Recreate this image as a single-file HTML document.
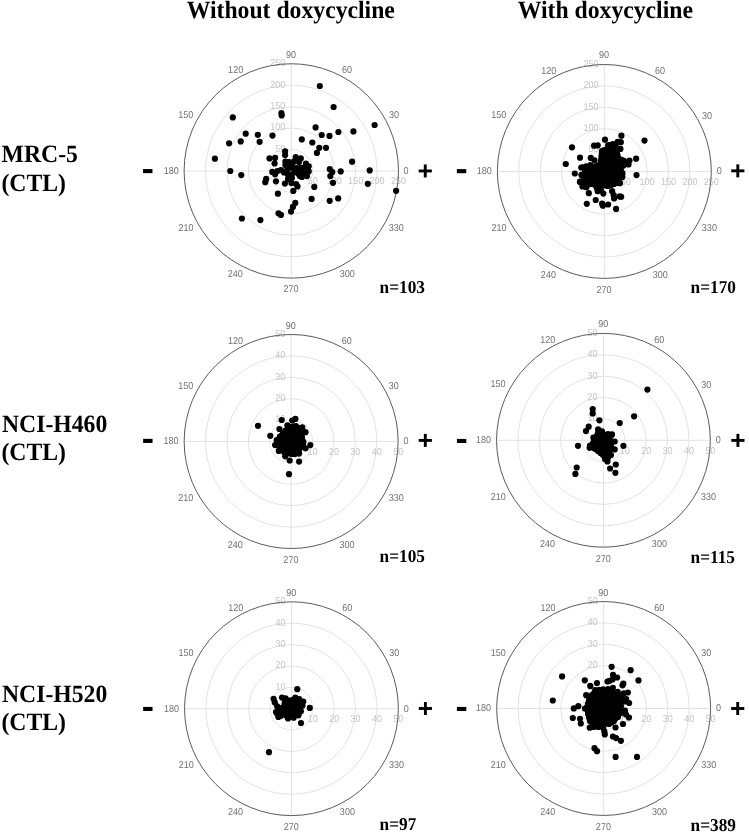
<!DOCTYPE html>
<html><head><meta charset="utf-8"><style>
html,body{margin:0;padding:0;background:#fff;}
body{width:749px;height:832px;overflow:hidden;}
svg{display:block;filter:blur(0.4px);}
text{text-rendering:geometricPrecision;}
</style></head><body>
<svg width="749" height="832" viewBox="0 0 749 832">
<g fill="none" stroke="#e2e2e2" stroke-width="1">
<circle cx="291.3" cy="170.95" r="21.44"/>
<circle cx="291.3" cy="170.95" r="42.88"/>
<circle cx="291.3" cy="170.95" r="64.32"/>
<circle cx="291.3" cy="170.95" r="85.76"/>
<path d="M184.1 170.95H398.5M291.3 63.75V278.15"/>
<circle cx="604.35" cy="171.45" r="21.39"/>
<circle cx="604.35" cy="171.45" r="42.78"/>
<circle cx="604.35" cy="171.45" r="64.17"/>
<circle cx="604.35" cy="171.45" r="85.56"/>
<path d="M497.4 171.45H711.3M604.35 64.5V278.4"/>
<circle cx="291.15" cy="441.5" r="21.4"/>
<circle cx="291.15" cy="441.5" r="42.8"/>
<circle cx="291.15" cy="441.5" r="64.2"/>
<circle cx="291.15" cy="441.5" r="85.6"/>
<path d="M184.15 441.5H398.15M291.15 334.5V548.5"/>
<circle cx="603.45" cy="440.3" r="21.38"/>
<circle cx="603.45" cy="440.3" r="42.76"/>
<circle cx="603.45" cy="440.3" r="64.14"/>
<circle cx="603.45" cy="440.3" r="85.52"/>
<path d="M496.55 440.3H710.35M603.45 333.4V547.2"/>
<circle cx="291.45" cy="708.7" r="21.38"/>
<circle cx="291.45" cy="708.7" r="42.76"/>
<circle cx="291.45" cy="708.7" r="64.14"/>
<circle cx="291.45" cy="708.7" r="85.52"/>
<path d="M184.55 708.7H398.35M291.45 601.8V815.6"/>
<circle cx="603.65" cy="708.5" r="21.39"/>
<circle cx="603.65" cy="708.5" r="42.78"/>
<circle cx="603.65" cy="708.5" r="64.17"/>
<circle cx="603.65" cy="708.5" r="85.56"/>
<path d="M496.7 708.5H710.6M603.65 601.55V815.45"/>
</g>
<g font-family="Liberation Sans, sans-serif" font-size="9.5" fill="#c4c4c4">
<text transform="translate(285.4 151.9) scale(0.95 1.05)" text-anchor="end">50</text>
<text transform="translate(312.74 184.24) scale(0.95 1.05)" text-anchor="middle">50</text>
<text transform="translate(285.4 130.46) scale(0.95 1.05)" text-anchor="end">100</text>
<text transform="translate(334.18 184.24) scale(0.95 1.05)" text-anchor="middle">100</text>
<text transform="translate(285.4 109.02) scale(0.95 1.05)" text-anchor="end">150</text>
<text transform="translate(355.62 184.24) scale(0.95 1.05)" text-anchor="middle">150</text>
<text transform="translate(285.4 87.58) scale(0.95 1.05)" text-anchor="end">200</text>
<text transform="translate(377.06 184.24) scale(0.95 1.05)" text-anchor="middle">200</text>
<text transform="translate(285.4 66.14) scale(0.95 1.05)" text-anchor="end">250</text>
<text transform="translate(398.5 184.24) scale(0.95 1.05)" text-anchor="middle">250</text>
<text transform="translate(598.45 152.45) scale(0.95 1.05)" text-anchor="end">50</text>
<text transform="translate(625.74 184.74) scale(0.95 1.05)" text-anchor="middle">50</text>
<text transform="translate(598.45 131.06) scale(0.95 1.05)" text-anchor="end">100</text>
<text transform="translate(647.13 184.74) scale(0.95 1.05)" text-anchor="middle">100</text>
<text transform="translate(598.45 109.67) scale(0.95 1.05)" text-anchor="end">150</text>
<text transform="translate(668.52 184.74) scale(0.95 1.05)" text-anchor="middle">150</text>
<text transform="translate(598.45 88.28) scale(0.95 1.05)" text-anchor="end">200</text>
<text transform="translate(689.91 184.74) scale(0.95 1.05)" text-anchor="middle">200</text>
<text transform="translate(598.45 66.89) scale(0.95 1.05)" text-anchor="end">250</text>
<text transform="translate(711.3 184.74) scale(0.95 1.05)" text-anchor="middle">250</text>
<text transform="translate(285.25 422.49) scale(0.95 1.05)" text-anchor="end">10</text>
<text transform="translate(312.55 454.79) scale(0.95 1.05)" text-anchor="middle">10</text>
<text transform="translate(285.25 401.09) scale(0.95 1.05)" text-anchor="end">20</text>
<text transform="translate(333.95 454.79) scale(0.95 1.05)" text-anchor="middle">20</text>
<text transform="translate(285.25 379.69) scale(0.95 1.05)" text-anchor="end">30</text>
<text transform="translate(355.35 454.79) scale(0.95 1.05)" text-anchor="middle">30</text>
<text transform="translate(285.25 358.29) scale(0.95 1.05)" text-anchor="end">40</text>
<text transform="translate(376.75 454.79) scale(0.95 1.05)" text-anchor="middle">40</text>
<text transform="translate(285.25 336.89) scale(0.95 1.05)" text-anchor="end">50</text>
<text transform="translate(398.15 454.79) scale(0.95 1.05)" text-anchor="middle">50</text>
<text transform="translate(597.55 421.31) scale(0.95 1.05)" text-anchor="end">10</text>
<text transform="translate(624.83 453.59) scale(0.95 1.05)" text-anchor="middle">10</text>
<text transform="translate(597.55 399.93) scale(0.95 1.05)" text-anchor="end">20</text>
<text transform="translate(646.21 453.59) scale(0.95 1.05)" text-anchor="middle">20</text>
<text transform="translate(597.55 378.55) scale(0.95 1.05)" text-anchor="end">30</text>
<text transform="translate(667.59 453.59) scale(0.95 1.05)" text-anchor="middle">30</text>
<text transform="translate(597.55 357.17) scale(0.95 1.05)" text-anchor="end">40</text>
<text transform="translate(688.97 453.59) scale(0.95 1.05)" text-anchor="middle">40</text>
<text transform="translate(597.55 335.79) scale(0.95 1.05)" text-anchor="end">50</text>
<text transform="translate(710.35 453.59) scale(0.95 1.05)" text-anchor="middle">50</text>
<text transform="translate(285.55 689.71) scale(0.95 1.05)" text-anchor="end">10</text>
<text transform="translate(312.83 721.99) scale(0.95 1.05)" text-anchor="middle">10</text>
<text transform="translate(285.55 668.33) scale(0.95 1.05)" text-anchor="end">20</text>
<text transform="translate(334.21 721.99) scale(0.95 1.05)" text-anchor="middle">20</text>
<text transform="translate(285.55 646.95) scale(0.95 1.05)" text-anchor="end">30</text>
<text transform="translate(355.59 721.99) scale(0.95 1.05)" text-anchor="middle">30</text>
<text transform="translate(285.55 625.57) scale(0.95 1.05)" text-anchor="end">40</text>
<text transform="translate(376.97 721.99) scale(0.95 1.05)" text-anchor="middle">40</text>
<text transform="translate(285.55 604.19) scale(0.95 1.05)" text-anchor="end">50</text>
<text transform="translate(398.35 721.99) scale(0.95 1.05)" text-anchor="middle">50</text>
<text transform="translate(597.75 689.5) scale(0.95 1.05)" text-anchor="end">10</text>
<text transform="translate(625.04 721.79) scale(0.95 1.05)" text-anchor="middle">10</text>
<text transform="translate(597.75 668.11) scale(0.95 1.05)" text-anchor="end">20</text>
<text transform="translate(646.43 721.79) scale(0.95 1.05)" text-anchor="middle">20</text>
<text transform="translate(597.75 646.72) scale(0.95 1.05)" text-anchor="end">30</text>
<text transform="translate(667.82 721.79) scale(0.95 1.05)" text-anchor="middle">30</text>
<text transform="translate(597.75 625.33) scale(0.95 1.05)" text-anchor="end">40</text>
<text transform="translate(689.21 721.79) scale(0.95 1.05)" text-anchor="middle">40</text>
<text transform="translate(597.75 603.94) scale(0.95 1.05)" text-anchor="end">50</text>
<text transform="translate(710.6 721.79) scale(0.95 1.05)" text-anchor="middle">50</text>
</g>
<g fill="none" stroke="#5a5a5a" stroke-width="1">
<circle cx="291.3" cy="170.95" r="107.2"/>
<circle cx="604.35" cy="171.45" r="106.95"/>
<circle cx="291.15" cy="441.5" r="107"/>
<circle cx="603.45" cy="440.3" r="106.9"/>
<circle cx="291.45" cy="708.7" r="106.9"/>
<circle cx="603.65" cy="708.5" r="106.95"/>
</g>
<g font-family="Liberation Sans, sans-serif" font-size="9.5" fill="#707070">
<text transform="translate(403.6 173.79) scale(0.95 1.05)" text-anchor="start">0</text>
<text transform="translate(389 118.19) scale(0.95 1.05)" text-anchor="start">30</text>
<text transform="translate(347 73.49) scale(0.95 1.05)" text-anchor="middle">60</text>
<text transform="translate(291 57.99) scale(0.95 1.05)" text-anchor="middle">90</text>
<text transform="translate(235.65 73.49) scale(0.95 1.05)" text-anchor="middle">120</text>
<text transform="translate(193.35 117.99) scale(0.95 1.05)" text-anchor="end">150</text>
<text transform="translate(178.8 173.89) scale(0.95 1.05)" text-anchor="end">180</text>
<text transform="translate(193.55 230.69) scale(0.95 1.05)" text-anchor="end">210</text>
<text transform="translate(235.35 277.34) scale(0.95 1.05)" text-anchor="middle">240</text>
<text transform="translate(291.05 292.19) scale(0.95 1.05)" text-anchor="middle">270</text>
<text transform="translate(347.25 277.29) scale(0.95 1.05)" text-anchor="middle">300</text>
<text transform="translate(388.8 230.69) scale(0.95 1.05)" text-anchor="start">330</text>
<text transform="translate(716.65 174.29) scale(0.95 1.05)" text-anchor="start">0</text>
<text transform="translate(702.05 118.69) scale(0.95 1.05)" text-anchor="start">30</text>
<text transform="translate(660.05 73.99) scale(0.95 1.05)" text-anchor="middle">60</text>
<text transform="translate(604.05 58.49) scale(0.95 1.05)" text-anchor="middle">90</text>
<text transform="translate(548.7 73.99) scale(0.95 1.05)" text-anchor="middle">120</text>
<text transform="translate(506.4 118.49) scale(0.95 1.05)" text-anchor="end">150</text>
<text transform="translate(491.85 174.39) scale(0.95 1.05)" text-anchor="end">180</text>
<text transform="translate(506.6 231.19) scale(0.95 1.05)" text-anchor="end">210</text>
<text transform="translate(548.4 277.84) scale(0.95 1.05)" text-anchor="middle">240</text>
<text transform="translate(604.1 292.69) scale(0.95 1.05)" text-anchor="middle">270</text>
<text transform="translate(660.3 277.79) scale(0.95 1.05)" text-anchor="middle">300</text>
<text transform="translate(701.85 231.19) scale(0.95 1.05)" text-anchor="start">330</text>
<text transform="translate(403.45 444.34) scale(0.95 1.05)" text-anchor="start">0</text>
<text transform="translate(388.85 388.74) scale(0.95 1.05)" text-anchor="start">30</text>
<text transform="translate(346.85 344.04) scale(0.95 1.05)" text-anchor="middle">60</text>
<text transform="translate(290.85 328.54) scale(0.95 1.05)" text-anchor="middle">90</text>
<text transform="translate(235.5 344.04) scale(0.95 1.05)" text-anchor="middle">120</text>
<text transform="translate(193.2 388.54) scale(0.95 1.05)" text-anchor="end">150</text>
<text transform="translate(178.65 444.44) scale(0.95 1.05)" text-anchor="end">180</text>
<text transform="translate(193.4 501.24) scale(0.95 1.05)" text-anchor="end">210</text>
<text transform="translate(235.2 547.89) scale(0.95 1.05)" text-anchor="middle">240</text>
<text transform="translate(290.9 562.74) scale(0.95 1.05)" text-anchor="middle">270</text>
<text transform="translate(347.1 547.84) scale(0.95 1.05)" text-anchor="middle">300</text>
<text transform="translate(388.65 501.24) scale(0.95 1.05)" text-anchor="start">330</text>
<text transform="translate(715.75 443.14) scale(0.95 1.05)" text-anchor="start">0</text>
<text transform="translate(701.15 387.54) scale(0.95 1.05)" text-anchor="start">30</text>
<text transform="translate(659.15 342.84) scale(0.95 1.05)" text-anchor="middle">60</text>
<text transform="translate(603.15 327.34) scale(0.95 1.05)" text-anchor="middle">90</text>
<text transform="translate(547.8 342.84) scale(0.95 1.05)" text-anchor="middle">120</text>
<text transform="translate(505.5 387.34) scale(0.95 1.05)" text-anchor="end">150</text>
<text transform="translate(490.95 443.24) scale(0.95 1.05)" text-anchor="end">180</text>
<text transform="translate(505.7 500.04) scale(0.95 1.05)" text-anchor="end">210</text>
<text transform="translate(547.5 546.69) scale(0.95 1.05)" text-anchor="middle">240</text>
<text transform="translate(603.2 561.54) scale(0.95 1.05)" text-anchor="middle">270</text>
<text transform="translate(659.4 546.64) scale(0.95 1.05)" text-anchor="middle">300</text>
<text transform="translate(700.95 500.04) scale(0.95 1.05)" text-anchor="start">330</text>
<text transform="translate(403.75 711.54) scale(0.95 1.05)" text-anchor="start">0</text>
<text transform="translate(389.15 655.94) scale(0.95 1.05)" text-anchor="start">30</text>
<text transform="translate(347.15 611.24) scale(0.95 1.05)" text-anchor="middle">60</text>
<text transform="translate(291.15 595.74) scale(0.95 1.05)" text-anchor="middle">90</text>
<text transform="translate(235.8 611.24) scale(0.95 1.05)" text-anchor="middle">120</text>
<text transform="translate(193.5 655.74) scale(0.95 1.05)" text-anchor="end">150</text>
<text transform="translate(178.95 711.64) scale(0.95 1.05)" text-anchor="end">180</text>
<text transform="translate(193.7 768.44) scale(0.95 1.05)" text-anchor="end">210</text>
<text transform="translate(235.5 815.09) scale(0.95 1.05)" text-anchor="middle">240</text>
<text transform="translate(291.2 829.94) scale(0.95 1.05)" text-anchor="middle">270</text>
<text transform="translate(347.4 815.04) scale(0.95 1.05)" text-anchor="middle">300</text>
<text transform="translate(388.95 768.44) scale(0.95 1.05)" text-anchor="start">330</text>
<text transform="translate(715.95 711.34) scale(0.95 1.05)" text-anchor="start">0</text>
<text transform="translate(701.35 655.74) scale(0.95 1.05)" text-anchor="start">30</text>
<text transform="translate(659.35 611.04) scale(0.95 1.05)" text-anchor="middle">60</text>
<text transform="translate(603.35 595.54) scale(0.95 1.05)" text-anchor="middle">90</text>
<text transform="translate(548 611.04) scale(0.95 1.05)" text-anchor="middle">120</text>
<text transform="translate(505.7 655.54) scale(0.95 1.05)" text-anchor="end">150</text>
<text transform="translate(491.15 711.44) scale(0.95 1.05)" text-anchor="end">180</text>
<text transform="translate(505.9 768.24) scale(0.95 1.05)" text-anchor="end">210</text>
<text transform="translate(547.7 814.89) scale(0.95 1.05)" text-anchor="middle">240</text>
<text transform="translate(603.4 829.74) scale(0.95 1.05)" text-anchor="middle">270</text>
<text transform="translate(659.6 814.84) scale(0.95 1.05)" text-anchor="middle">300</text>
<text transform="translate(701.15 768.24) scale(0.95 1.05)" text-anchor="start">330</text>
</g>
<g fill="#000">
<circle cx="232.8" cy="117.4" r="3.1"/>
<circle cx="245.7" cy="133.7" r="3.1"/>
<circle cx="240.7" cy="141.4" r="3.1"/>
<circle cx="229.1" cy="143.3" r="3.1"/>
<circle cx="214.9" cy="158.7" r="3.1"/>
<circle cx="230.3" cy="171" r="3.1"/>
<circle cx="241.3" cy="175.1" r="3.1"/>
<circle cx="257.8" cy="134.8" r="3.1"/>
<circle cx="259.6" cy="141.8" r="3.1"/>
<circle cx="272.5" cy="135.6" r="3.1"/>
<circle cx="281.4" cy="113" r="3.1"/>
<circle cx="281.7" cy="115.4" r="3.1"/>
<circle cx="319.8" cy="86" r="3.1"/>
<circle cx="315.6" cy="127.4" r="3.1"/>
<circle cx="301.8" cy="139.4" r="3.1"/>
<circle cx="321.7" cy="135" r="3.1"/>
<circle cx="329.5" cy="135.9" r="3.1"/>
<circle cx="312.3" cy="142.5" r="3.1"/>
<circle cx="319.3" cy="147.8" r="3.1"/>
<circle cx="316.9" cy="152.9" r="3.1"/>
<circle cx="326" cy="147.8" r="3.1"/>
<circle cx="333.6" cy="107" r="3.1"/>
<circle cx="374.6" cy="125" r="3.1"/>
<circle cx="338.4" cy="132" r="3.1"/>
<circle cx="353.4" cy="131.4" r="3.1"/>
<circle cx="352.1" cy="161.7" r="3.1"/>
<circle cx="329.8" cy="169.2" r="3.1"/>
<circle cx="332.3" cy="172.1" r="3.1"/>
<circle cx="340.7" cy="171.4" r="3.1"/>
<circle cx="330.3" cy="176.1" r="3.1"/>
<circle cx="333" cy="182.8" r="3.1"/>
<circle cx="369.7" cy="170.4" r="3.1"/>
<circle cx="367.8" cy="183.8" r="3.1"/>
<circle cx="396.1" cy="190.8" r="3.1"/>
<circle cx="314.3" cy="186.9" r="3.1"/>
<circle cx="311.6" cy="198.9" r="3.1"/>
<circle cx="329.7" cy="200.8" r="3.1"/>
<circle cx="338.2" cy="198.4" r="3.1"/>
<circle cx="295.3" cy="202.9" r="3.1"/>
<circle cx="292.9" cy="206.9" r="3.1"/>
<circle cx="291" cy="211.6" r="3.1"/>
<circle cx="278.5" cy="213.3" r="3.1"/>
<circle cx="280.9" cy="214.9" r="3.1"/>
<circle cx="241.9" cy="218.5" r="3.1"/>
<circle cx="260.4" cy="220.1" r="3.1"/>
<circle cx="285.1" cy="151.4" r="3.1"/>
<circle cx="285.1" cy="155.1" r="3.1"/>
<circle cx="269.5" cy="158.4" r="3.1"/>
<circle cx="275.1" cy="157.9" r="3.1"/>
<circle cx="274.6" cy="163.5" r="3.1"/>
<circle cx="285.4" cy="161.6" r="3.1"/>
<circle cx="285.4" cy="164.9" r="3.1"/>
<circle cx="295.7" cy="157" r="3.1"/>
<circle cx="300.8" cy="158.4" r="3.1"/>
<circle cx="294.3" cy="161.2" r="3.1"/>
<circle cx="298.9" cy="162.1" r="3.1"/>
<circle cx="305.9" cy="163.5" r="3.1"/>
<circle cx="308.7" cy="166.3" r="3.1"/>
<circle cx="289.6" cy="167.7" r="3.1"/>
<circle cx="292.4" cy="165.8" r="3.1"/>
<circle cx="297.1" cy="171" r="3.1"/>
<circle cx="298.9" cy="174.3" r="3.1"/>
<circle cx="304.1" cy="171" r="3.1"/>
<circle cx="308.7" cy="171.4" r="3.1"/>
<circle cx="306.9" cy="176.1" r="3.1"/>
<circle cx="272.3" cy="171.9" r="3.1"/>
<circle cx="277.4" cy="171" r="3.1"/>
<circle cx="275.1" cy="174.3" r="3.1"/>
<circle cx="284" cy="172.4" r="3.1"/>
<circle cx="287.7" cy="174.3" r="3.1"/>
<circle cx="291.4" cy="174.3" r="3.1"/>
<circle cx="291.9" cy="178" r="3.1"/>
<circle cx="266.2" cy="178.9" r="3.1"/>
<circle cx="265.3" cy="182.2" r="3.1"/>
<circle cx="276" cy="181.3" r="3.1"/>
<circle cx="284.9" cy="183.6" r="3.1"/>
<circle cx="291.4" cy="183.1" r="3.1"/>
<circle cx="296.1" cy="184.1" r="3.1"/>
<circle cx="297.5" cy="186.4" r="3.1"/>
<circle cx="293.3" cy="190.9" r="3.1"/>
<circle cx="277.9" cy="193.7" r="3.1"/>
<circle cx="286.8" cy="170.5" r="3.1"/>
<circle cx="289" cy="162" r="3.1"/>
<circle cx="281" cy="170" r="3.1"/>
<circle cx="294" cy="169" r="3.1"/>
<circle cx="301" cy="168" r="3.1"/>
<circle cx="288" cy="179" r="3.1"/>
<circle cx="302" cy="177" r="3.1"/>
<circle cx="300.8" cy="167.7" r="3.1"/>
<circle cx="301.7" cy="172.4" r="3.1"/>
<circle cx="299.9" cy="176.1" r="3.1"/>
<circle cx="303.6" cy="174.3" r="3.1"/>
<circle cx="295.2" cy="172.4" r="3.1"/>
<circle cx="304.5" cy="167.7" r="3.1"/>
<circle cx="296.5" cy="168" r="3.1"/>
<circle cx="612" cy="148" r="3.1"/>
<circle cx="615.5" cy="148" r="3.1"/>
<circle cx="603.25" cy="151.03" r="3.1"/>
<circle cx="606.75" cy="151.03" r="3.1"/>
<circle cx="610.25" cy="151.03" r="3.1"/>
<circle cx="613.75" cy="151.03" r="3.1"/>
<circle cx="605" cy="154.06" r="3.1"/>
<circle cx="608.5" cy="154.06" r="3.1"/>
<circle cx="612" cy="154.06" r="3.1"/>
<circle cx="615.5" cy="154.06" r="3.1"/>
<circle cx="603.25" cy="157.09" r="3.1"/>
<circle cx="606.75" cy="157.09" r="3.1"/>
<circle cx="610.25" cy="157.09" r="3.1"/>
<circle cx="613.75" cy="157.09" r="3.1"/>
<circle cx="617.25" cy="157.09" r="3.1"/>
<circle cx="601.5" cy="160.12" r="3.1"/>
<circle cx="605" cy="160.12" r="3.1"/>
<circle cx="608.5" cy="160.12" r="3.1"/>
<circle cx="612" cy="160.12" r="3.1"/>
<circle cx="615.5" cy="160.12" r="3.1"/>
<circle cx="619" cy="160.12" r="3.1"/>
<circle cx="603.25" cy="163.16" r="3.1"/>
<circle cx="606.75" cy="163.16" r="3.1"/>
<circle cx="610.25" cy="163.16" r="3.1"/>
<circle cx="613.75" cy="163.16" r="3.1"/>
<circle cx="617.25" cy="163.16" r="3.1"/>
<circle cx="620.75" cy="163.16" r="3.1"/>
<circle cx="624.25" cy="163.16" r="3.1"/>
<circle cx="598" cy="166.19" r="3.1"/>
<circle cx="601.5" cy="166.19" r="3.1"/>
<circle cx="605" cy="166.19" r="3.1"/>
<circle cx="608.5" cy="166.19" r="3.1"/>
<circle cx="612" cy="166.19" r="3.1"/>
<circle cx="615.5" cy="166.19" r="3.1"/>
<circle cx="619" cy="166.19" r="3.1"/>
<circle cx="592.75" cy="169.22" r="3.1"/>
<circle cx="596.25" cy="169.22" r="3.1"/>
<circle cx="599.75" cy="169.22" r="3.1"/>
<circle cx="603.25" cy="169.22" r="3.1"/>
<circle cx="606.75" cy="169.22" r="3.1"/>
<circle cx="610.25" cy="169.22" r="3.1"/>
<circle cx="613.75" cy="169.22" r="3.1"/>
<circle cx="617.25" cy="169.22" r="3.1"/>
<circle cx="587.5" cy="172.25" r="3.1"/>
<circle cx="591" cy="172.25" r="3.1"/>
<circle cx="594.5" cy="172.25" r="3.1"/>
<circle cx="598" cy="172.25" r="3.1"/>
<circle cx="601.5" cy="172.25" r="3.1"/>
<circle cx="605" cy="172.25" r="3.1"/>
<circle cx="608.5" cy="172.25" r="3.1"/>
<circle cx="612" cy="172.25" r="3.1"/>
<circle cx="615.5" cy="172.25" r="3.1"/>
<circle cx="619" cy="172.25" r="3.1"/>
<circle cx="585.75" cy="175.28" r="3.1"/>
<circle cx="589.25" cy="175.28" r="3.1"/>
<circle cx="592.75" cy="175.28" r="3.1"/>
<circle cx="596.25" cy="175.28" r="3.1"/>
<circle cx="599.75" cy="175.28" r="3.1"/>
<circle cx="603.25" cy="175.28" r="3.1"/>
<circle cx="606.75" cy="175.28" r="3.1"/>
<circle cx="610.25" cy="175.28" r="3.1"/>
<circle cx="613.75" cy="175.28" r="3.1"/>
<circle cx="617.25" cy="175.28" r="3.1"/>
<circle cx="587.5" cy="178.31" r="3.1"/>
<circle cx="591" cy="178.31" r="3.1"/>
<circle cx="594.5" cy="178.31" r="3.1"/>
<circle cx="598" cy="178.31" r="3.1"/>
<circle cx="601.5" cy="178.31" r="3.1"/>
<circle cx="605" cy="178.31" r="3.1"/>
<circle cx="608.5" cy="178.31" r="3.1"/>
<circle cx="612" cy="178.31" r="3.1"/>
<circle cx="615.5" cy="178.31" r="3.1"/>
<circle cx="619" cy="178.31" r="3.1"/>
<circle cx="585.75" cy="181.34" r="3.1"/>
<circle cx="589.25" cy="181.34" r="3.1"/>
<circle cx="592.75" cy="181.34" r="3.1"/>
<circle cx="596.25" cy="181.34" r="3.1"/>
<circle cx="599.75" cy="181.34" r="3.1"/>
<circle cx="603.25" cy="181.34" r="3.1"/>
<circle cx="606.75" cy="181.34" r="3.1"/>
<circle cx="610.25" cy="181.34" r="3.1"/>
<circle cx="613.75" cy="181.34" r="3.1"/>
<circle cx="617.25" cy="181.34" r="3.1"/>
<circle cx="594.5" cy="184.37" r="3.1"/>
<circle cx="598" cy="184.37" r="3.1"/>
<circle cx="601.5" cy="184.37" r="3.1"/>
<circle cx="605" cy="184.37" r="3.1"/>
<circle cx="608.5" cy="184.37" r="3.1"/>
<circle cx="612" cy="184.37" r="3.1"/>
<circle cx="602" cy="151" r="3.1"/>
<circle cx="604.67" cy="150" r="3.1"/>
<circle cx="607.33" cy="149" r="3.1"/>
<circle cx="610" cy="148" r="3.1"/>
<circle cx="613.5" cy="148" r="3.1"/>
<circle cx="617" cy="148" r="3.1"/>
<circle cx="617" cy="152" r="3.1"/>
<circle cx="617.5" cy="155" r="3.1"/>
<circle cx="618" cy="158" r="3.1"/>
<circle cx="621" cy="159.5" r="3.1"/>
<circle cx="624" cy="161" r="3.1"/>
<circle cx="626" cy="164" r="3.1"/>
<circle cx="623.5" cy="165.5" r="3.1"/>
<circle cx="621" cy="167" r="3.1"/>
<circle cx="620.67" cy="169.67" r="3.1"/>
<circle cx="620.33" cy="172.33" r="3.1"/>
<circle cx="620" cy="175" r="3.1"/>
<circle cx="619.5" cy="178.5" r="3.1"/>
<circle cx="619" cy="182" r="3.1"/>
<circle cx="616.5" cy="183" r="3.1"/>
<circle cx="614" cy="184" r="3.1"/>
<circle cx="611" cy="185" r="3.1"/>
<circle cx="608" cy="186" r="3.1"/>
<circle cx="605.5" cy="185.5" r="3.1"/>
<circle cx="603" cy="185" r="3.1"/>
<circle cx="600.5" cy="185.5" r="3.1"/>
<circle cx="598" cy="186" r="3.1"/>
<circle cx="595" cy="185" r="3.1"/>
<circle cx="592" cy="184" r="3.1"/>
<circle cx="589" cy="184" r="3.1"/>
<circle cx="586" cy="184" r="3.1"/>
<circle cx="585" cy="181.5" r="3.1"/>
<circle cx="584" cy="179" r="3.1"/>
<circle cx="584.5" cy="175.5" r="3.1"/>
<circle cx="585" cy="172" r="3.1"/>
<circle cx="587.33" cy="170.67" r="3.1"/>
<circle cx="589.67" cy="169.33" r="3.1"/>
<circle cx="592" cy="168" r="3.1"/>
<circle cx="595" cy="166.67" r="3.1"/>
<circle cx="598" cy="165.33" r="3.1"/>
<circle cx="601" cy="164" r="3.1"/>
<circle cx="601.2" cy="161.4" r="3.1"/>
<circle cx="601.4" cy="158.8" r="3.1"/>
<circle cx="601.6" cy="156.2" r="3.1"/>
<circle cx="601.8" cy="153.6" r="3.1"/>
<circle cx="572" cy="147.3" r="3.1"/>
<circle cx="580" cy="157.7" r="3.1"/>
<circle cx="565.8" cy="164" r="3.1"/>
<circle cx="574.8" cy="173.5" r="3.1"/>
<circle cx="605" cy="139.7" r="3.1"/>
<circle cx="594.1" cy="145.7" r="3.1"/>
<circle cx="597.7" cy="145.4" r="3.1"/>
<circle cx="590.8" cy="157.9" r="3.1"/>
<circle cx="594.5" cy="160.3" r="3.1"/>
<circle cx="581.2" cy="167.5" r="3.1"/>
<circle cx="586.4" cy="166.3" r="3.1"/>
<circle cx="590.4" cy="165.1" r="3.1"/>
<circle cx="581.6" cy="175.1" r="3.1"/>
<circle cx="587.2" cy="173.1" r="3.1"/>
<circle cx="580" cy="181.9" r="3.1"/>
<circle cx="585.6" cy="180.3" r="3.1"/>
<circle cx="603.3" cy="150.6" r="3.1"/>
<circle cx="608.1" cy="145.4" r="3.1"/>
<circle cx="612.9" cy="144.2" r="3.1"/>
<circle cx="617.7" cy="141.8" r="3.1"/>
<circle cx="621.4" cy="135.7" r="3.1"/>
<circle cx="620.8" cy="142.2" r="3.1"/>
<circle cx="620.4" cy="148.9" r="3.1"/>
<circle cx="644.5" cy="140.6" r="3.1"/>
<circle cx="636.1" cy="158.7" r="3.1"/>
<circle cx="636.5" cy="175.1" r="3.1"/>
<circle cx="627.6" cy="162.3" r="3.1"/>
<circle cx="623.2" cy="160.7" r="3.1"/>
<circle cx="621.6" cy="173.1" r="3.1"/>
<circle cx="622.4" cy="177.1" r="3.1"/>
<circle cx="609.6" cy="145" r="3.1"/>
<circle cx="614.4" cy="144.6" r="3.1"/>
<circle cx="629.5" cy="160.5" r="3.1"/>
<circle cx="628.5" cy="164.5" r="3.1"/>
<circle cx="581.6" cy="174.8" r="3.1"/>
<circle cx="587.2" cy="174" r="3.1"/>
<circle cx="580" cy="181.6" r="3.1"/>
<circle cx="584" cy="183.6" r="3.1"/>
<circle cx="582.4" cy="186.4" r="3.1"/>
<circle cx="586.4" cy="187.2" r="3.1"/>
<circle cx="588.8" cy="193.2" r="3.1"/>
<circle cx="586.8" cy="203.8" r="3.1"/>
<circle cx="595.7" cy="200" r="3.1"/>
<circle cx="602.1" cy="203.7" r="3.1"/>
<circle cx="602.9" cy="205.7" r="3.1"/>
<circle cx="608.1" cy="204.5" r="3.1"/>
<circle cx="616.1" cy="208.9" r="3.1"/>
<circle cx="596.9" cy="188" r="3.1"/>
<circle cx="597.7" cy="191.2" r="3.1"/>
<circle cx="603.3" cy="193.6" r="3.1"/>
<circle cx="600.9" cy="190" r="3.1"/>
<circle cx="612.1" cy="191.2" r="3.1"/>
<circle cx="613.7" cy="195.2" r="3.1"/>
<circle cx="614.1" cy="198.4" r="3.1"/>
<circle cx="619.7" cy="196.4" r="3.1"/>
<circle cx="621.2" cy="196.8" r="3.1"/>
<circle cx="620" cy="183.2" r="3.1"/>
<circle cx="621.6" cy="174.8" r="3.1"/>
<circle cx="622.4" cy="173.2" r="3.1"/>
<circle cx="582.8" cy="167.3" r="3.1"/>
<circle cx="287.75" cy="429.03" r="3.1"/>
<circle cx="291.25" cy="429.03" r="3.1"/>
<circle cx="294.75" cy="429.03" r="3.1"/>
<circle cx="298.25" cy="429.03" r="3.1"/>
<circle cx="286" cy="432.06" r="3.1"/>
<circle cx="289.5" cy="432.06" r="3.1"/>
<circle cx="293" cy="432.06" r="3.1"/>
<circle cx="296.5" cy="432.06" r="3.1"/>
<circle cx="300" cy="432.06" r="3.1"/>
<circle cx="284.25" cy="435.09" r="3.1"/>
<circle cx="287.75" cy="435.09" r="3.1"/>
<circle cx="291.25" cy="435.09" r="3.1"/>
<circle cx="294.75" cy="435.09" r="3.1"/>
<circle cx="298.25" cy="435.09" r="3.1"/>
<circle cx="282.5" cy="438.12" r="3.1"/>
<circle cx="286" cy="438.12" r="3.1"/>
<circle cx="289.5" cy="438.12" r="3.1"/>
<circle cx="293" cy="438.12" r="3.1"/>
<circle cx="296.5" cy="438.12" r="3.1"/>
<circle cx="300" cy="438.12" r="3.1"/>
<circle cx="280.75" cy="441.16" r="3.1"/>
<circle cx="284.25" cy="441.16" r="3.1"/>
<circle cx="287.75" cy="441.16" r="3.1"/>
<circle cx="291.25" cy="441.16" r="3.1"/>
<circle cx="294.75" cy="441.16" r="3.1"/>
<circle cx="298.25" cy="441.16" r="3.1"/>
<circle cx="301.75" cy="441.16" r="3.1"/>
<circle cx="279" cy="444.19" r="3.1"/>
<circle cx="282.5" cy="444.19" r="3.1"/>
<circle cx="286" cy="444.19" r="3.1"/>
<circle cx="289.5" cy="444.19" r="3.1"/>
<circle cx="293" cy="444.19" r="3.1"/>
<circle cx="296.5" cy="444.19" r="3.1"/>
<circle cx="300" cy="444.19" r="3.1"/>
<circle cx="280.75" cy="447.22" r="3.1"/>
<circle cx="284.25" cy="447.22" r="3.1"/>
<circle cx="287.75" cy="447.22" r="3.1"/>
<circle cx="291.25" cy="447.22" r="3.1"/>
<circle cx="294.75" cy="447.22" r="3.1"/>
<circle cx="298.25" cy="447.22" r="3.1"/>
<circle cx="286" cy="450.25" r="3.1"/>
<circle cx="289.5" cy="450.25" r="3.1"/>
<circle cx="293" cy="450.25" r="3.1"/>
<circle cx="296.5" cy="450.25" r="3.1"/>
<circle cx="291.25" cy="453.28" r="3.1"/>
<circle cx="288" cy="428" r="3.1"/>
<circle cx="290.67" cy="427.33" r="3.1"/>
<circle cx="293.33" cy="426.67" r="3.1"/>
<circle cx="296" cy="426" r="3.1"/>
<circle cx="298.5" cy="428" r="3.1"/>
<circle cx="301" cy="430" r="3.1"/>
<circle cx="301.5" cy="433.5" r="3.1"/>
<circle cx="302" cy="437" r="3.1"/>
<circle cx="302.5" cy="440.5" r="3.1"/>
<circle cx="303" cy="444" r="3.1"/>
<circle cx="301" cy="447" r="3.1"/>
<circle cx="299" cy="450" r="3.1"/>
<circle cx="296.67" cy="451.33" r="3.1"/>
<circle cx="294.33" cy="452.67" r="3.1"/>
<circle cx="292" cy="454" r="3.1"/>
<circle cx="289.33" cy="453.33" r="3.1"/>
<circle cx="286.67" cy="452.67" r="3.1"/>
<circle cx="284" cy="452" r="3.1"/>
<circle cx="282.33" cy="450" r="3.1"/>
<circle cx="280.67" cy="448" r="3.1"/>
<circle cx="279" cy="446" r="3.1"/>
<circle cx="279" cy="443" r="3.1"/>
<circle cx="279" cy="440" r="3.1"/>
<circle cx="280.33" cy="437.67" r="3.1"/>
<circle cx="281.67" cy="435.33" r="3.1"/>
<circle cx="283" cy="433" r="3.1"/>
<circle cx="285.5" cy="430.5" r="3.1"/>
<circle cx="258" cy="425.8" r="3.1"/>
<circle cx="281.7" cy="420" r="3.1"/>
<circle cx="292.2" cy="420.5" r="3.1"/>
<circle cx="295.4" cy="418.9" r="3.1"/>
<circle cx="279.4" cy="429" r="3.1"/>
<circle cx="270.3" cy="435.8" r="3.1"/>
<circle cx="287.4" cy="425.3" r="3.1"/>
<circle cx="302.3" cy="427.4" r="3.1"/>
<circle cx="305.5" cy="432.2" r="3.1"/>
<circle cx="310.3" cy="445.1" r="3.1"/>
<circle cx="305.5" cy="448.3" r="3.1"/>
<circle cx="303.4" cy="441.8" r="3.1"/>
<circle cx="299.1" cy="453.6" r="3.1"/>
<circle cx="299.1" cy="461.6" r="3.1"/>
<circle cx="289.7" cy="460.5" r="3.1"/>
<circle cx="285.2" cy="456.3" r="3.1"/>
<circle cx="278.8" cy="450.9" r="3.1"/>
<circle cx="275.1" cy="445.1" r="3.1"/>
<circle cx="276.7" cy="440.2" r="3.1"/>
<circle cx="279.9" cy="436.5" r="3.1"/>
<circle cx="289" cy="474.2" r="3.1"/>
<circle cx="294.9" cy="454.1" r="3.1"/>
<circle cx="598.25" cy="436.03" r="3.1"/>
<circle cx="601.75" cy="436.03" r="3.1"/>
<circle cx="605.25" cy="436.03" r="3.1"/>
<circle cx="596.5" cy="439.06" r="3.1"/>
<circle cx="600" cy="439.06" r="3.1"/>
<circle cx="603.5" cy="439.06" r="3.1"/>
<circle cx="607" cy="439.06" r="3.1"/>
<circle cx="594.75" cy="442.09" r="3.1"/>
<circle cx="598.25" cy="442.09" r="3.1"/>
<circle cx="601.75" cy="442.09" r="3.1"/>
<circle cx="605.25" cy="442.09" r="3.1"/>
<circle cx="608.75" cy="442.09" r="3.1"/>
<circle cx="593" cy="445.12" r="3.1"/>
<circle cx="596.5" cy="445.12" r="3.1"/>
<circle cx="600" cy="445.12" r="3.1"/>
<circle cx="603.5" cy="445.12" r="3.1"/>
<circle cx="607" cy="445.12" r="3.1"/>
<circle cx="610.5" cy="445.12" r="3.1"/>
<circle cx="594.75" cy="448.16" r="3.1"/>
<circle cx="598.25" cy="448.16" r="3.1"/>
<circle cx="601.75" cy="448.16" r="3.1"/>
<circle cx="605.25" cy="448.16" r="3.1"/>
<circle cx="608.75" cy="448.16" r="3.1"/>
<circle cx="600" cy="451.19" r="3.1"/>
<circle cx="603.5" cy="451.19" r="3.1"/>
<circle cx="607" cy="451.19" r="3.1"/>
<circle cx="605.25" cy="454.22" r="3.1"/>
<circle cx="598" cy="433" r="3.1"/>
<circle cx="600.5" cy="433.5" r="3.1"/>
<circle cx="603" cy="434" r="3.1"/>
<circle cx="606" cy="435.5" r="3.1"/>
<circle cx="609" cy="437" r="3.1"/>
<circle cx="611" cy="441" r="3.1"/>
<circle cx="611" cy="443.67" r="3.1"/>
<circle cx="611" cy="446.33" r="3.1"/>
<circle cx="611" cy="449" r="3.1"/>
<circle cx="609" cy="451.5" r="3.1"/>
<circle cx="607" cy="454" r="3.1"/>
<circle cx="606" cy="456.5" r="3.1"/>
<circle cx="605" cy="459" r="3.1"/>
<circle cx="603" cy="455" r="3.1"/>
<circle cx="600.5" cy="453" r="3.1"/>
<circle cx="598" cy="451" r="3.1"/>
<circle cx="595.5" cy="449" r="3.1"/>
<circle cx="593" cy="447" r="3.1"/>
<circle cx="593" cy="443" r="3.1"/>
<circle cx="594.5" cy="440.5" r="3.1"/>
<circle cx="596" cy="438" r="3.1"/>
<circle cx="597" cy="435.5" r="3.1"/>
<circle cx="647.4" cy="389.6" r="3.1"/>
<circle cx="634.1" cy="416.3" r="3.1"/>
<circle cx="619.7" cy="423" r="3.1"/>
<circle cx="592.7" cy="409.1" r="3.1"/>
<circle cx="592.7" cy="413.4" r="3.1"/>
<circle cx="599.4" cy="420.3" r="3.1"/>
<circle cx="588.7" cy="426.7" r="3.1"/>
<circle cx="586" cy="431.1" r="3.1"/>
<circle cx="598.1" cy="429.4" r="3.1"/>
<circle cx="602" cy="431.3" r="3.1"/>
<circle cx="608" cy="434" r="3.1"/>
<circle cx="612" cy="434.4" r="3.1"/>
<circle cx="578" cy="445.8" r="3.1"/>
<circle cx="623.4" cy="445.8" r="3.1"/>
<circle cx="576.7" cy="467.5" r="3.1"/>
<circle cx="575.4" cy="473.9" r="3.1"/>
<circle cx="615.8" cy="464.5" r="3.1"/>
<circle cx="610.1" cy="468.5" r="3.1"/>
<circle cx="615.4" cy="472.8" r="3.1"/>
<circle cx="607.4" cy="461.4" r="3.1"/>
<circle cx="608.1" cy="457.4" r="3.1"/>
<circle cx="611" cy="455" r="3.1"/>
<circle cx="614.7" cy="449.4" r="3.1"/>
<circle cx="614.7" cy="441.5" r="3.1"/>
<circle cx="611.4" cy="435" r="3.1"/>
<circle cx="593.4" cy="437.7" r="3.1"/>
<circle cx="590" cy="445.5" r="3.1"/>
<circle cx="589.6" cy="447.8" r="3.1"/>
<circle cx="594" cy="448.1" r="3.1"/>
<circle cx="601.4" cy="450.8" r="3.1"/>
<circle cx="604.7" cy="454.1" r="3.1"/>
<circle cx="285.75" cy="703.03" r="3.1"/>
<circle cx="289.25" cy="703.03" r="3.1"/>
<circle cx="292.75" cy="703.03" r="3.1"/>
<circle cx="296.25" cy="703.03" r="3.1"/>
<circle cx="287.5" cy="706.06" r="3.1"/>
<circle cx="291" cy="706.06" r="3.1"/>
<circle cx="294.5" cy="706.06" r="3.1"/>
<circle cx="298" cy="706.06" r="3.1"/>
<circle cx="285.75" cy="709.09" r="3.1"/>
<circle cx="289.25" cy="709.09" r="3.1"/>
<circle cx="292.75" cy="709.09" r="3.1"/>
<circle cx="296.25" cy="709.09" r="3.1"/>
<circle cx="299.75" cy="709.09" r="3.1"/>
<circle cx="287.5" cy="712.12" r="3.1"/>
<circle cx="291" cy="712.12" r="3.1"/>
<circle cx="294.5" cy="712.12" r="3.1"/>
<circle cx="298" cy="712.12" r="3.1"/>
<circle cx="289.25" cy="715.15" r="3.1"/>
<circle cx="292.75" cy="715.15" r="3.1"/>
<circle cx="285" cy="701" r="3.1"/>
<circle cx="288.5" cy="700.5" r="3.1"/>
<circle cx="292" cy="700" r="3.1"/>
<circle cx="295.5" cy="701" r="3.1"/>
<circle cx="299" cy="702" r="3.1"/>
<circle cx="301" cy="706" r="3.1"/>
<circle cx="300" cy="709" r="3.1"/>
<circle cx="299" cy="712" r="3.1"/>
<circle cx="297" cy="713.5" r="3.1"/>
<circle cx="295" cy="715" r="3.1"/>
<circle cx="292" cy="715.5" r="3.1"/>
<circle cx="289" cy="716" r="3.1"/>
<circle cx="287" cy="714.5" r="3.1"/>
<circle cx="285" cy="713" r="3.1"/>
<circle cx="284.5" cy="710" r="3.1"/>
<circle cx="284" cy="707" r="3.1"/>
<circle cx="284.5" cy="704" r="3.1"/>
<circle cx="297.3" cy="689.2" r="3.1"/>
<circle cx="309.8" cy="707.9" r="3.1"/>
<circle cx="301" cy="723" r="3.1"/>
<circle cx="268.96" cy="752.2" r="3.1"/>
<circle cx="273.6" cy="698.8" r="3.1"/>
<circle cx="274.8" cy="702.4" r="3.1"/>
<circle cx="277.2" cy="706.4" r="3.1"/>
<circle cx="277.2" cy="713.7" r="3.1"/>
<circle cx="278.4" cy="716.9" r="3.1"/>
<circle cx="276" cy="712.1" r="3.1"/>
<circle cx="282" cy="697.6" r="3.1"/>
<circle cx="285.6" cy="698.4" r="3.1"/>
<circle cx="295.3" cy="697.6" r="3.1"/>
<circle cx="299.3" cy="699.2" r="3.1"/>
<circle cx="303.3" cy="701.6" r="3.1"/>
<circle cx="302.5" cy="705.6" r="3.1"/>
<circle cx="300.9" cy="711.3" r="3.1"/>
<circle cx="298.5" cy="715.3" r="3.1"/>
<circle cx="293.7" cy="717.7" r="3.1"/>
<circle cx="288" cy="718.5" r="3.1"/>
<circle cx="285.6" cy="715.3" r="3.1"/>
<circle cx="284" cy="712.1" r="3.1"/>
<circle cx="280.8" cy="708" r="3.1"/>
<circle cx="280.8" cy="712" r="3.1"/>
<circle cx="280.5" cy="716" r="3.1"/>
<circle cx="279.5" cy="710" r="3.1"/>
<circle cx="597.5" cy="691.5" r="3.1"/>
<circle cx="601" cy="691.5" r="3.1"/>
<circle cx="604.5" cy="691.5" r="3.1"/>
<circle cx="608" cy="691.5" r="3.1"/>
<circle cx="611.5" cy="691.5" r="3.1"/>
<circle cx="595.75" cy="694.53" r="3.1"/>
<circle cx="599.25" cy="694.53" r="3.1"/>
<circle cx="602.75" cy="694.53" r="3.1"/>
<circle cx="606.25" cy="694.53" r="3.1"/>
<circle cx="609.75" cy="694.53" r="3.1"/>
<circle cx="613.25" cy="694.53" r="3.1"/>
<circle cx="616.75" cy="694.53" r="3.1"/>
<circle cx="590.5" cy="697.56" r="3.1"/>
<circle cx="594" cy="697.56" r="3.1"/>
<circle cx="597.5" cy="697.56" r="3.1"/>
<circle cx="601" cy="697.56" r="3.1"/>
<circle cx="604.5" cy="697.56" r="3.1"/>
<circle cx="608" cy="697.56" r="3.1"/>
<circle cx="611.5" cy="697.56" r="3.1"/>
<circle cx="615" cy="697.56" r="3.1"/>
<circle cx="618.5" cy="697.56" r="3.1"/>
<circle cx="592.25" cy="700.59" r="3.1"/>
<circle cx="595.75" cy="700.59" r="3.1"/>
<circle cx="599.25" cy="700.59" r="3.1"/>
<circle cx="602.75" cy="700.59" r="3.1"/>
<circle cx="606.25" cy="700.59" r="3.1"/>
<circle cx="609.75" cy="700.59" r="3.1"/>
<circle cx="613.25" cy="700.59" r="3.1"/>
<circle cx="616.75" cy="700.59" r="3.1"/>
<circle cx="620.25" cy="700.59" r="3.1"/>
<circle cx="590.5" cy="703.62" r="3.1"/>
<circle cx="594" cy="703.62" r="3.1"/>
<circle cx="597.5" cy="703.62" r="3.1"/>
<circle cx="601" cy="703.62" r="3.1"/>
<circle cx="604.5" cy="703.62" r="3.1"/>
<circle cx="608" cy="703.62" r="3.1"/>
<circle cx="611.5" cy="703.62" r="3.1"/>
<circle cx="615" cy="703.62" r="3.1"/>
<circle cx="618.5" cy="703.62" r="3.1"/>
<circle cx="588.75" cy="706.65" r="3.1"/>
<circle cx="592.25" cy="706.65" r="3.1"/>
<circle cx="595.75" cy="706.65" r="3.1"/>
<circle cx="599.25" cy="706.65" r="3.1"/>
<circle cx="602.75" cy="706.65" r="3.1"/>
<circle cx="606.25" cy="706.65" r="3.1"/>
<circle cx="609.75" cy="706.65" r="3.1"/>
<circle cx="613.25" cy="706.65" r="3.1"/>
<circle cx="616.75" cy="706.65" r="3.1"/>
<circle cx="590.5" cy="709.69" r="3.1"/>
<circle cx="594" cy="709.69" r="3.1"/>
<circle cx="597.5" cy="709.69" r="3.1"/>
<circle cx="601" cy="709.69" r="3.1"/>
<circle cx="604.5" cy="709.69" r="3.1"/>
<circle cx="608" cy="709.69" r="3.1"/>
<circle cx="611.5" cy="709.69" r="3.1"/>
<circle cx="615" cy="709.69" r="3.1"/>
<circle cx="618.5" cy="709.69" r="3.1"/>
<circle cx="588.75" cy="712.72" r="3.1"/>
<circle cx="592.25" cy="712.72" r="3.1"/>
<circle cx="595.75" cy="712.72" r="3.1"/>
<circle cx="599.25" cy="712.72" r="3.1"/>
<circle cx="602.75" cy="712.72" r="3.1"/>
<circle cx="606.25" cy="712.72" r="3.1"/>
<circle cx="609.75" cy="712.72" r="3.1"/>
<circle cx="613.25" cy="712.72" r="3.1"/>
<circle cx="616.75" cy="712.72" r="3.1"/>
<circle cx="590.5" cy="715.75" r="3.1"/>
<circle cx="594" cy="715.75" r="3.1"/>
<circle cx="597.5" cy="715.75" r="3.1"/>
<circle cx="601" cy="715.75" r="3.1"/>
<circle cx="604.5" cy="715.75" r="3.1"/>
<circle cx="608" cy="715.75" r="3.1"/>
<circle cx="611.5" cy="715.75" r="3.1"/>
<circle cx="615" cy="715.75" r="3.1"/>
<circle cx="592.25" cy="718.78" r="3.1"/>
<circle cx="595.75" cy="718.78" r="3.1"/>
<circle cx="599.25" cy="718.78" r="3.1"/>
<circle cx="602.75" cy="718.78" r="3.1"/>
<circle cx="606.25" cy="718.78" r="3.1"/>
<circle cx="609.75" cy="718.78" r="3.1"/>
<circle cx="613.25" cy="718.78" r="3.1"/>
<circle cx="594" cy="721.81" r="3.1"/>
<circle cx="597.5" cy="721.81" r="3.1"/>
<circle cx="601" cy="721.81" r="3.1"/>
<circle cx="604.5" cy="721.81" r="3.1"/>
<circle cx="608" cy="721.81" r="3.1"/>
<circle cx="611.5" cy="721.81" r="3.1"/>
<circle cx="596" cy="691.5" r="3.1"/>
<circle cx="598.67" cy="691.5" r="3.1"/>
<circle cx="601.33" cy="691.5" r="3.1"/>
<circle cx="604" cy="691.5" r="3.1"/>
<circle cx="606.67" cy="691.5" r="3.1"/>
<circle cx="609.33" cy="691.5" r="3.1"/>
<circle cx="612" cy="691.5" r="3.1"/>
<circle cx="614.5" cy="692.75" r="3.1"/>
<circle cx="617" cy="694" r="3.1"/>
<circle cx="619" cy="695.67" r="3.1"/>
<circle cx="621" cy="697.33" r="3.1"/>
<circle cx="623" cy="699" r="3.1"/>
<circle cx="621.5" cy="701.5" r="3.1"/>
<circle cx="620" cy="704" r="3.1"/>
<circle cx="620" cy="707.5" r="3.1"/>
<circle cx="620" cy="711" r="3.1"/>
<circle cx="618.5" cy="713.5" r="3.1"/>
<circle cx="617" cy="716" r="3.1"/>
<circle cx="615.5" cy="718.5" r="3.1"/>
<circle cx="614" cy="721" r="3.1"/>
<circle cx="611.5" cy="722.5" r="3.1"/>
<circle cx="609" cy="724" r="3.1"/>
<circle cx="606.5" cy="723.5" r="3.1"/>
<circle cx="604" cy="723" r="3.1"/>
<circle cx="600" cy="724" r="3.1"/>
<circle cx="597" cy="724" r="3.1"/>
<circle cx="594" cy="724" r="3.1"/>
<circle cx="592" cy="722.5" r="3.1"/>
<circle cx="590" cy="721" r="3.1"/>
<circle cx="589" cy="717.5" r="3.1"/>
<circle cx="588" cy="714" r="3.1"/>
<circle cx="587.5" cy="710.5" r="3.1"/>
<circle cx="587" cy="707" r="3.1"/>
<circle cx="588" cy="703.5" r="3.1"/>
<circle cx="589" cy="700" r="3.1"/>
<circle cx="590.5" cy="697.5" r="3.1"/>
<circle cx="592" cy="695" r="3.1"/>
<circle cx="594" cy="693.25" r="3.1"/>
<circle cx="562.1" cy="676.4" r="3.1"/>
<circle cx="552.8" cy="700.5" r="3.1"/>
<circle cx="584.8" cy="680.3" r="3.1"/>
<circle cx="590.2" cy="685.9" r="3.1"/>
<circle cx="597" cy="683" r="3.1"/>
<circle cx="586.2" cy="695.2" r="3.1"/>
<circle cx="611.6" cy="666.8" r="3.1"/>
<circle cx="630.6" cy="670.2" r="3.1"/>
<circle cx="638.5" cy="680.4" r="3.1"/>
<circle cx="613" cy="674.8" r="3.1"/>
<circle cx="617.1" cy="677.5" r="3.1"/>
<circle cx="607.5" cy="681.5" r="3.1"/>
<circle cx="623.3" cy="683.7" r="3.1"/>
<circle cx="622.5" cy="685.3" r="3.1"/>
<circle cx="627.9" cy="692.5" r="3.1"/>
<circle cx="623.7" cy="693.4" r="3.1"/>
<circle cx="629.1" cy="703" r="3.1"/>
<circle cx="625" cy="710.7" r="3.1"/>
<circle cx="629" cy="717.5" r="3.1"/>
<circle cx="623" cy="724" r="3.1"/>
<circle cx="615.5" cy="727.5" r="3.1"/>
<circle cx="612.9" cy="736.5" r="3.1"/>
<circle cx="616.1" cy="738.1" r="3.1"/>
<circle cx="620.9" cy="740.8" r="3.1"/>
<circle cx="604.4" cy="731.7" r="3.1"/>
<circle cx="604.8" cy="734.4" r="3.1"/>
<circle cx="603.3" cy="728" r="3.1"/>
<circle cx="594.5" cy="748.2" r="3.1"/>
<circle cx="597" cy="751.2" r="3.1"/>
<circle cx="615.6" cy="756.9" r="3.1"/>
<circle cx="637" cy="756.9" r="3.1"/>
<circle cx="572.8" cy="718" r="3.1"/>
<circle cx="580" cy="718.8" r="3.1"/>
<circle cx="580.8" cy="723.5" r="3.1"/>
<circle cx="573.8" cy="708.4" r="3.1"/>
<circle cx="578.3" cy="706.2" r="3.1"/>
<circle cx="585" cy="708.5" r="3.1"/>
<circle cx="589.7" cy="727.7" r="3.1"/>
<circle cx="593.7" cy="727" r="3.1"/>
<circle cx="598.4" cy="727" r="3.1"/>
<circle cx="612.5" cy="679.5" r="3.1"/>
<circle cx="609.5" cy="680.8" r="3.1"/>
<circle cx="624.6" cy="701.4" r="3.1"/>
<circle cx="626.2" cy="699" r="3.1"/>
<circle cx="621" cy="713" r="3.1"/>
<circle cx="618" cy="717" r="3.1"/>
<circle cx="626" cy="714.5" r="3.1"/>
<circle cx="621" cy="706" r="3.1"/>
<circle cx="595.2" cy="690" r="3.1"/>
<circle cx="603.2" cy="689.3" r="3.1"/>
<circle cx="612.9" cy="687.8" r="3.1"/>
<circle cx="617.7" cy="691.9" r="3.1"/>
<circle cx="599.5" cy="689.8" r="3.1"/>
<circle cx="608" cy="689" r="3.1"/>
</g>
<g fill="#000">
<rect x="143.05" y="169.05" width="9.4" height="4.1"/>
<rect x="418.65" y="169.5" width="13.2" height="2.9"/>
<rect x="423.8" y="164.45" width="2.9" height="13"/>
<rect x="456.85" y="169.1" width="9.4" height="4.1"/>
<rect x="731.2" y="169.4" width="13.2" height="2.9"/>
<rect x="736.35" y="164.35" width="2.9" height="13"/>
<rect x="143.15" y="438.85" width="9.4" height="4.1"/>
<rect x="418.7" y="438.95" width="13.2" height="2.9"/>
<rect x="423.85" y="433.9" width="2.9" height="13"/>
<rect x="456.95" y="438.9" width="9.4" height="4.1"/>
<rect x="731.3" y="438.95" width="13.2" height="2.9"/>
<rect x="736.45" y="433.9" width="2.9" height="13"/>
<rect x="143.15" y="706.9" width="9.4" height="4.1"/>
<rect x="418.8" y="707.05" width="13.2" height="2.9"/>
<rect x="423.95" y="702" width="2.9" height="13"/>
<rect x="456.9" y="706.9" width="9.4" height="4.1"/>
<rect x="731.1" y="707.05" width="13.2" height="2.9"/>
<rect x="736.25" y="702" width="2.9" height="13"/>
</g>
<g font-family="Liberation Serif, serif" font-weight="bold" fill="#000">
<text transform="translate(186.7 17.6) scale(1 1.05)" font-size="23.7">Without doxycycline</text>
<text transform="translate(517.7 17.6) scale(1 1.05)" font-size="23.7">With doxycycline</text>
<text transform="translate(1.6 162) scale(1 1.05)" font-size="23.7">MRC-5</text>
<text transform="translate(1.45 190.5) scale(1 1.05)" font-size="23.7">(CTL)</text>
<text transform="translate(2 431.9) scale(1 1.05)" font-size="23.7">NCI-H460</text>
<text transform="translate(1.45 460.2) scale(1 1.05)" font-size="23.7">(CTL)</text>
<text transform="translate(2 701.6) scale(1 1.05)" font-size="23.7">NCI-H520</text>
<text transform="translate(1.45 730.2) scale(1 1.05)" font-size="23.7">(CTL)</text>
</g>
<g font-family="Liberation Serif, serif" font-weight="bold" font-size="17.3" fill="#000">
<text transform="translate(379.6 292.6) scale(1 1.05)">n=103</text>
<text transform="translate(690.55 293.4) scale(1 1.05)">n=170</text>
<text transform="translate(379.6 562) scale(1 1.05)">n=105</text>
<text transform="translate(690.55 562.6) scale(1 1.05)">n=115</text>
<text transform="translate(379.6 830.3) scale(1 1.05)">n=97</text>
<text transform="translate(690.55 830.8) scale(1 1.05)">n=389</text>
</g>
</svg>
</body></html>
